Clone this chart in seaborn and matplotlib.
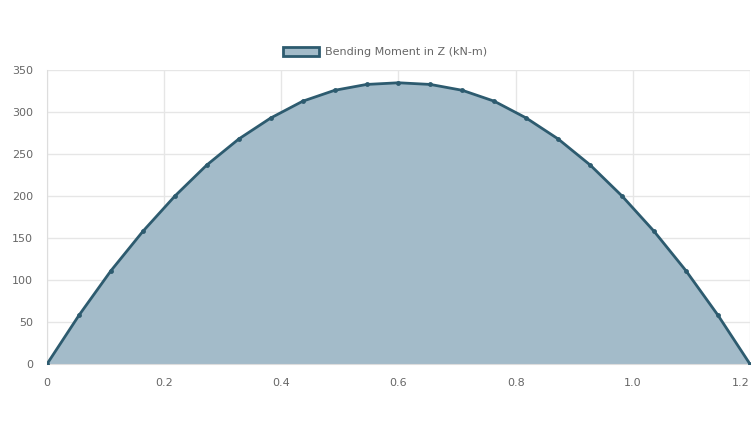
import pandas as pd
import matplotlib.pyplot as plt
import numpy as np
import seaborn as sns
from matplotlib.patches import Patch

# posiciones a lo largo de la viga (m)
posicion = [0, 0.0545, 0.109, 0.1636, 0.2182, 0.2727, 0.3273, 0.3818, 0.4364,
            0.4909, 0.5455, 0.6, 0.6545, 0.7091, 0.7636, 0.8182, 0.8727,
            0.9273, 0.9818, 1.0364, 1.0909, 1.1455, 1.2]
# momento flector (kN-m)
momento = [0, 58, 111, 158, 200, 237, 268, 293, 313, 326, 333, 335, 333,
           326, 313, 293, 268, 237, 200, 158, 111, 58, 0]
xticks = [0, 0.2, 0.4, 0.6, 0.8, 1.0, 1.2]
xtick_labels = ["0", "0.2", "0.4", "0.6", "0.8", "1.0", "1.2"]
yticks = [0, 50, 100, 150, 200, 250, 300, 350]
etiqueta = "Bending Moment in Z (kN-m)"

df = pd.DataFrame({"x": posicion, "M": momento})

sns.set_style("white")
fig = plt.figure(figsize=(7.55, 4.34), dpi=100)
ax = fig.add_axes([0.0623, 0.1613, 0.931, 0.677])

relleno = "#a3bbc9"
linea = "#2d5b6f"

ax.fill_between(df["x"], df["M"], 0, color=relleno, zorder=2, linewidth=0)
sns.lineplot(data=df, x="x", y="M", ax=ax, color=linea, linewidth=2,
             marker="o", markersize=3.5, markeredgewidth=0, zorder=3)

ax.set_xlim(0, 1.2)
ax.set_ylim(0, 350)
ax.set_xticks(xticks)
ax.set_xticklabels(xtick_labels)
ax.set_yticks(yticks)
ax.grid(True, color="#e6e6e6", linewidth=1, zorder=0)
ax.set_axisbelow(True)
for lado in ["top", "right"]:
    ax.spines[lado].set_visible(False)
for lado in ["left", "bottom"]:
    ax.spines[lado].set_color("#dddddd")
ax.tick_params(axis="both", colors="#dddddd", labelcolor="#666666",
               labelsize=8, length=6, pad=4)
# la ultima etiqueta queda en el borde: alinearla a la derecha
ax.get_xticklabels()[-1].set_horizontalalignment("right")
ax.set_xlabel("")
ax.set_ylabel("")

leyenda = [Patch(facecolor=relleno, edgecolor=linea, linewidth=2, label=etiqueta)]
fig.legend(handles=leyenda, loc="center", bbox_to_anchor=(0.51, 0.88),
           frameon=False, fontsize=8, labelcolor="#666666",
           handlelength=3.2, handleheight=0.9, handletextpad=0.5)

plt.savefig("out.png", dpi=100)
